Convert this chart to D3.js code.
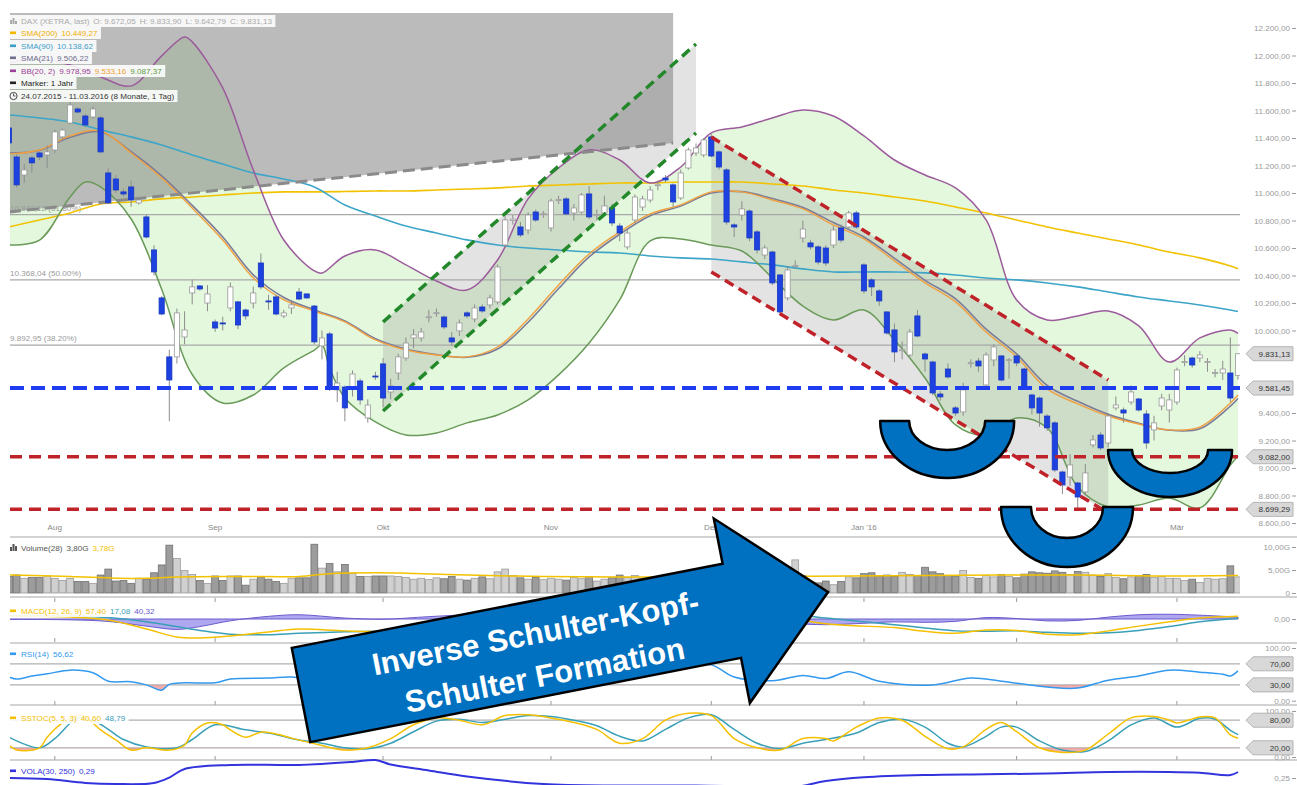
<!DOCTYPE html>
<html><head><meta charset="utf-8">
<script src="https://cdn.jsdelivr.net/npm/d3@7/dist/d3.min.js"></script>
<style>
html,body{margin:0;padding:0;background:#fff;}
svg{display:block;font-family:"Liberation Sans",Arial,sans-serif;}
</style></head><body>
<svg id="chart" width="1297" height="785"></svg>
<script>
// ---------------- DATA ----------------
const openP=[11473,11262,11131,11255,11291,11277,11313,11408,11509,11611,
11560,11553,11546,11146,11102,11008,11044,10928,10826,10586,
10237,9808,9808,9953,10273,10324,10200,10062,10055,10164,
10208,10149,10200,10491,10215,10244,10106,10164,10280,10266,
10178,9888,9975,9568,9589,9589,9633,9364,9669,9757,
9553,9691,9800,9946,9946,10098,10125,10098,9946,9997,
10128,10084,10171,10186,10208,10622,10800,10753,10731,10862,
10845,10746,10945,10957,10855,10862,10993,10838,10855,10891,
10760,10608,10804,10898,10949,11055,11109,11059,10964,11182,
11291,11277,11408,11299,11168,10768,10840,10869,10717,10549,
10571,10404,10237,10465,10673,10637,10608,10600,10622,10746,
10753,10855,10477,10368,10288,10135,10004,9855,9822,10106,
9829,9771,9538,9720,9437,9408,9762,9778,9604,9786,
9815,9784,9815,9720,9531,9509,9378,9328,8971,8935,
8891,8826,9168,9240,9182,9437,9422,9480,9502,9393,
9277,9451,9422,9480,9768,9800,9800,9770,9690,9691,
9691,9672];
const highP=[11500,11280,11210,11270,11300,11345,11460,11470,11680,11625,
11575,11630,11560,11180,11130,11030,11090,10965,10840,10620,
10250,9860,10160,10140,10370,10330,10330,10080,10100,10350,
10215,10160,10320,10560,10260,10260,10150,10220,10310,10270,
10185,10000,9990,9700,9600,9710,9650,9500,9700,9800,
9650,9830,9950,10010,10020,10150,10160,10110,9990,10080,
10140,10190,10190,10260,10480,10830,10840,10790,10860,10880,
10870,10960,10980,10970,10920,11000,11050,10880,10980,10920,
10780,10730,10990,10980,11050,11090,11130,11070,11170,11330,
11360,11400,11430,11310,11180,10780,10940,10880,10730,10620,
10580,10410,10470,10510,10800,10660,10620,10620,10760,10770,
10870,10870,10490,10380,10300,10140,10050,9920,10010,10150,
9840,9780,9560,9760,9450,9620,9790,9800,9840,9900,
9820,9800,9830,9730,9540,9520,9390,9340,8980,9100,
8900,9030,9240,9260,9400,9520,9440,9600,9510,9420,
9380,9540,9540,9730,9820,9810,9850,9800,9720,9780,
9950,9834];
const lowP=[11340,11040,11075,11150,11240,11182,11290,11390,11500,11580,
11480,11540,11290,10920,11000,10975,10900,10915,10670,10400,
10110,9340,9760,9900,10190,10290,10140,9990,10000,10140,
10010,10080,10160,10300,10150,10110,10090,10120,10220,10230,
9900,9790,9560,9480,9340,9520,9460,9330,9640,9440,
9500,9640,9780,9870,9920,10060,10100,10010,9890,9960,
10090,10060,10130,10160,10190,10600,10770,10680,10700,10790,
10820,10720,10920,10840,10800,10850,10810,10800,10840,10760,
10650,10590,10780,10870,10930,11020,11080,10900,10950,11170,
11270,11260,11260,11170,10770,10680,10800,10650,10560,10520,
10330,10120,10220,10450,10640,10590,10480,10470,10600,10640,
10740,10740,10270,10250,10180,9970,9770,9790,9800,9950,
9700,9530,9490,9650,9380,9380,9730,9700,9590,9740,
9630,9650,9740,9570,9390,9300,9270,8970,8810,8870,
8700,8800,9150,9130,9150,9420,9330,9460,9410,9140,
9200,9420,9330,9460,9740,9730,9770,9700,9660,9640,
9480,9643];
const closeP=[11364,11059,11168,11219,11262,11299,11444,11458,11640,11589,
11495,11611,11299,10928,11022,10993,10949,10949,10680,10426,
10120,9640,10128,10004,10317,10302,10266,10018,10048,10317,
10040,10106,10273,10317,10208,10120,10128,10186,10229,10237,
9917,9946,9575,9618,9437,9684,9495,9458,9662,9509,
9597,9808,9909,9968,9989,10100,10130,10026,9917,10055,
10106,10164,10142,10237,10462,10804,10810,10695,10840,10804,
10850,10942,10952,10848,10891,10986,10826,10842,10906,10782,
10709,10709,10971,10957,11022,11060,11095,10935,11146,11313,
11328,11386,11269,11189,10789,10753,10884,10673,10586,10600,
10346,10135,10440,10472,10738,10608,10498,10491,10731,10658,
10855,10753,10288,10317,10215,9982,9844,9860,9989,9960,
9793,9546,9517,9662,9400,9568,9766,9742,9822,9880,
9640,9788,9764,9582,9437,9400,9292,8986,8877,9022,
8789,8964,9204,9146,9378,9458,9400,9553,9422,9182,
9328,9509,9495,9713,9774,9749,9822,9775,9695,9720,
9509,9831];
// volume in billions
const volume=[3.6,3.9,3.2,3.4,3.4,3.7,3.2,2.7,3.2,2.5,
2.5,2.1,3.9,5.2,2.6,2.7,2.1,3.2,3.0,4.4,
6.1,10.4,7.5,4.9,4.0,2.7,2.1,3.7,2.7,3.7,
3.7,1.7,3.0,3.5,3.0,2.5,2.1,3.2,3.3,3.3,
10.6,5.4,6.4,4.6,6.2,4.3,3.6,3.6,3.7,3.7,
3.7,3.6,3.4,3.0,3.2,2.9,3.3,3.1,3.6,3.0,
2.8,3.2,3.5,3.1,4.6,5.2,3.8,3.3,3.0,3.4,
2.9,3.2,3.0,2.8,3.4,3.1,3.6,2.6,3.0,3.3,
3.9,3.4,3.8,3.2,3.0,2.9,2.6,3.4,3.1,3.7,
3.2,3.6,4.1,4.3,5.0,4.2,3.6,4.0,3.8,3.5,
4.4,5.1,3.9,7.2,3.8,2.4,2.2,2.6,1.8,2.5,
3.5,3.3,4.2,4.4,3.7,3.9,3.6,4.5,4.0,3.8,
5.6,4.6,4.2,3.8,3.7,4.9,3.4,3.2,3.8,3.5,
4.0,3.6,3.3,4.1,4.6,4.4,4.3,4.8,4.5,4.0,
4.7,4.5,3.9,3.6,4.2,3.4,3.1,3.5,3.8,4.0,
3.4,3.6,3.2,3.2,2.7,3.0,2.3,3.2,3.0,3.1,
5.9,3.5];
const volumeMA=[[0,3.9],[8,3.6],[14,3.2],[18,3.2],[22,3.5],[30,3.6],[38,3.6],[42,4.2],[48,4.4],[52,4.3],[60,3.9],[70,3.6],[80,3.5],[90,3.5],[100,3.6],[110,3.7],[120,3.8],[130,3.9],[140,3.9],[150,3.7],[161,3.78]];

// overlay lines (candle index, value)
const lineIdx=[0,4,8,12,16,20,24,28,32,36,40,44,48,52,56,60,64,68,72,76,80,84,88,92,96,100,104,108,112,116,120,124,128,132,136,140,144,148,152,156,160,161];
const sma200=[10753,10804,10855,10920,10935,10957,10971,10986,11000,11008,11008,11011,11015,11015,11022,11029,11037,11051,11058,11066,11073,11073,11080,11080,11080,11066,11051,11022,11000,10971,10942,10898,10855,10804,10753,10709,10666,10622,10571,10528,10469,10449];
const sma90=[11568,11546,11517,11459,11408,11349,11277,11211,11146,11102,11044,10913,10833,10760,10709,10659,10622,10600,10586,10571,10564,10542,10528,10520,10499,10477,10448,10426,10426,10426,10419,10404,10382,10368,10346,10317,10280,10244,10215,10186,10149,10138];
const sma21=[11290,11310,11405,11445,11300,11125,10910,10680,10405,10240,10150,10070,9940,9865,9825,9805,9865,10060,10305,10535,10700,10835,10905,11000,11010,10960,10895,10785,10680,10525,10365,10230,10010,9830,9600,9485,9390,9325,9275,9285,9450,9506];
const bbMid=[11284,11313,11415,11451,11291,11109,10891,10658,10382,10222,10142,10062,9931,9858,9822,9808,9880,10084,10331,10557,10717,10848,10913,11008,11008,10949,10884,10768,10666,10506,10346,10208,9989,9808,9575,9466,9378,9320,9277,9298,9473,9531];
const bbUpper=[[0,11946],[4,11982],[8,11931],[12,11844],[16,11779],[20,11997],[23,12135],[24,12099],[28,11764],[32,11168],[36,10658],[40,10433],[41,10418],[44,10542],[48,10586],[52,10477],[56,10360],[60,10295],[64,10513],[68,10957],[72,11182],[76,11313],[80,11240],[84,11073],[88,11189],[92,11437],[96,11480],[100,11546],[104,11604],[108,11560],[112,11415],[116,11240],[120,11131],[124,11037],[128,10804],[132,10222],[136,10077],[140,10106],[144,10142],[148,10033],[152,9771],[156,9946],[160,10004],[161,9979]];
const bbLower=[[0,10622],[4,10658],[8,10971],[10,11080],[12,11044],[16,10811],[20,10300],[24,9680],[28,9473],[32,9531],[36,9728],[40,9858],[41,9895],[42,9728],[44,9509],[48,9335],[52,9240],[56,9255],[60,9328],[64,9386],[68,9495],[72,9677],[76,9909],[80,10222],[84,10651],[88,10666],[92,10622],[96,10578],[100,10382],[104,10178],[108,10077],[112,10149],[116,9931],[120,9655],[124,9313],[128,9240],[132,9364],[136,9291],[140,8862],[144,8717],[148,8731],[152,8782],[156,8709],[160,9022],[161,9088]];

// indicator panels (candle index, value)
const macdLine=[[0,63],[8,42],[13,-21],[18,-210],[22,-380],[25,-400],[29,-358],[34,-274],[38,-210],[44,-250],[49,-260],[55,-170],[60,-60],[66,90],[72,200],[78,240],[84,220],[90,260],[96,180],[102,30],[107,-100],[112,-150],[116,-180],[120,-260],[124,-300],[128,-230],[132,-240],[136,-320],[140,-330],[144,-250],[148,-150],[152,-60],[156,20],[161,57]];
const macdSignal=[[0,70],[8,60],[13,30],[18,-60],[22,-160],[25,-240],[29,-320],[34,-330],[38,-300],[44,-270],[49,-255],[55,-220],[60,-150],[66,-40],[72,80],[78,170],[84,210],[90,230],[96,220],[102,120],[107,20],[112,-60],[116,-120],[120,-190],[124,-250],[128,-260],[132,-250],[136,-280],[140,-300],[144,-290],[148,-240],[152,-160],[156,-60],[161,17]];
const macdHist=[[0,-7],[8,-18],[13,-51],[18,-150],[22,-220],[25,-160],[29,-38],[34,56],[38,90],[44,20],[49,-5],[55,50],[60,90],[66,130],[72,120],[78,70],[84,10],[90,30],[96,-40],[102,-90],[107,-120],[112,-90],[116,-60],[120,-70],[124,-50],[128,30],[132,10],[136,-40],[140,-30],[144,40],[148,90],[152,100],[156,80],[161,40]];
const rsi=[[0,45],[1,41],[3,47],[5,51],[8,58],[11,53],[13,37],[16,36],[18,30],[20,20],[21,31],[23,34],[27,34],[29,41],[34,43],[37,45],[41,35],[44,30],[48,38],[52,50],[56,52],[60,55],[64,62],[68,68],[72,65],[76,60],[80,55],[84,62],[88,66],[92,68],[95,45],[100,38],[104,48],[107,42],[110,55],[114,37],[121,30],[126,43],[130,37],[136,26],[140,24],[144,39],[148,47],[152,58],[156,54],[159,50],[160,47],[161,56.62]];
const stochK=[[0,26],[1,15],[4,20],[5,43],[7,74],[9,91],[10,87],[12,59],[14,37],[16,15],[18,20],[21,15],[23,26],[24,52],[26,74],[28,70],[29,59],[31,43],[33,54],[35,50],[37,41],[41,25],[44,15],[47,20],[50,40],[53,70],[56,85],[59,80],[62,70],[65,90],[68,92],[71,85],[74,75],[77,60],[80,30],[83,40],[86,80],[89,95],[92,90],[95,40],[98,20],[101,15],[104,40],[107,40],[108,35],[111,65],[114,85],[117,80],[120,45],[123,18],[125,22],[128,60],[130,75],[132,55],[135,20],[138,10],[141,15],[144,50],[147,85],[150,88],[152,80],[153,74],[156,87],[158,85],[160,48],[161,40.6]];
const stochD=[[0,43],[4,20],[6,40],[9,85],[11,80],[13,60],[15,38],[18,22],[22,20],[24,38],[27,70],[31,59],[34,52],[38,37],[41,30],[44,20],[47,18],[50,30],[53,55],[56,78],[59,82],[62,75],[65,82],[68,90],[71,88],[74,80],[77,68],[80,45],[83,35],[86,60],[89,85],[92,92],[95,60],[98,30],[101,18],[104,30],[107,38],[111,52],[114,75],[117,82],[120,65],[123,30],[125,22],[128,45],[130,65],[132,65],[135,35],[138,15],[141,12],[144,35],[147,70],[150,85],[153,65],[156,84],[158,82],[160,58],[161,48.79]];
const vola=[[0,0.25],[5,0.243],[10,0.217],[14,0.21],[19,0.217],[21,0.253],[23,0.31],[29,0.337],[38,0.337],[45,0.357],[48,0.37],[50,0.34],[55,0.30],[60,0.26],[70,0.21],[80,0.20],[90,0.20],[100,0.19],[103,0.19],[107,0.23],[112,0.255],[120,0.27],[128,0.275],[136,0.28],[144,0.29],[152,0.29],[156,0.285],[160,0.27],[161,0.29]];

// annotations (candle index, price)
const fibLevels=[10843.12,10368.04,9892.95];
const fibLabels=["10.843,12 (61.80%)","10.368,04 (50.00%)","9.892,95 (38.20%)"];
const supportBlue=9581.45;
const supportRed=[9082.00,8699.29];
const greyZone=[[0,12330],[87,12330],[87,11364],[0,10862]];
const greyLine=[[0,10862],[87,11364]];
const greenUpper=[[49,10062],[90,12084]];
const greenLower=[[49,9415],[90,11436]];
const redUpper=[[92,11407],[144,9640]];
const redLower=[[92,10426],[144,8673]];
const cupAnchors=[[122.9,9342],[138.6,8716],[152.1,9131]];
const priceTags=[["9.831,13",9831.13],["9.581,45",9581.45],["9.082,00",9082.00],["8.699,29",8699.29]];
const monthLabels=["Aug","Sep","Okt","Nov","Dez","Jan '16","Feb","Mär"];
const priceTicks=[8600,8800,9000,9200,9400,10000,10200,10400,10600,10800,11000,11200,11400,11600,11800,12000,12200];

// ---------------- SETUP ----------------
const svg=d3.select("#chart");
const N=closeP.length;
const holidays=new Set(["2015-12-24","2015-12-25","2015-12-31","2016-01-01"]);
const dates=[];
for(let d=new Date(Date.UTC(2015,6,24)); dates.length<N; d.setUTCDate(d.getUTCDate()+1)){
  const wd=d.getUTCDay(), s=d.toISOString().slice(0,10);
  if(wd>0&&wd<6&&!holidays.has(s)) dates.push(s);
}
const PL=10, PR=1240, PT=13, PB=523;
const FS=8.1;
const x=d3.scaleBand().domain(dates).range([5.18,1241.82]);
const xc=i=>x(dates[i])+x.bandwidth()/2;
const xL=d3.scaleLinear().domain([0,N-1]).range([xc(0),xc(N-1)]);
const y=d3.scaleLinear().domain([8600,12200]).range([523,28]);
const loc=d3.formatLocale({decimal:",",thousands:".",grouping:[3],currency:["","€"]});
const f2=loc.format(",.2f");
const curve=d3.curveCatmullRom.alpha(0.5);
const lineP=ys=>d3.line().x(d=>xL(d[0])).y(d=>ys(d[1])).curve(curve);
const lineS=ys=>d3.line().x(d=>xL(d[0])).y(d=>ys(d[1]));
const pair=vals=>d3.zip(lineIdx,vals);

const defs=svg.append("defs");
defs.append("clipPath").attr("id","clipMain").append("rect").attr("x",PL).attr("y",PT).attr("width",PR-PL).attr("height",PB-PT);
defs.append("clipPath").attr("id","clipLow").append("rect").attr("x",PL).attr("y",530).attr("width",PR-PL).attr("height",255);

const main=svg.append("g").attr("clip-path","url(#clipMain)");

// Bollinger fill
const upPath=lineP(y)(bbUpper), loRev=lineP(y)(bbLower.slice().reverse());
main.append("path").attr("d",upPath+"L"+loRev.slice(1)+"Z").attr("fill","#e3f8dc");

// grey zone top left
main.append("path").attr("d",lineS(y)(greyZone)+"Z").attr("fill","rgba(120,120,120,0.5)");
// channel fills
main.append("path").attr("d",lineS(y)([greenUpper[0],greenUpper[1],greenLower[1],greenLower[0]])+"Z").attr("fill","rgba(128,128,128,0.22)");
main.append("path").attr("d",lineS(y)([redUpper[0],redUpper[1],redLower[1],redLower[0]])+"Z").attr("fill","rgba(128,128,128,0.22)");

// fib lines
fibLevels.forEach((v,k)=>{
  main.append("line").attr("x1",PL).attr("x2",PR).attr("y1",y(v)).attr("y2",y(v)).attr("stroke","#a8a8a8").attr("stroke-width",1.2);
  main.append("text").attr("x",PL).attr("y",y(v)-4).text(fibLabels[k]).attr("font-size",FS).attr("fill","#9a9a9a");
});

// overlay lines
const ov=[[pair(sma200),"#f2c200",1.6],[pair(sma90),"#3da5c8",1.6],[pair(sma21),"#7c7c98",1.6],[pair(bbMid),"#f0a040",1.4],[bbUpper,"#9c5b9c",1.5],[bbLower,"#6a9a5a",1.5]];
ov.forEach(([d,c,w])=>main.append("path").attr("d",lineP(y)(d)).attr("fill","none").attr("stroke",c).attr("stroke-width",w));

// grey dashed line
main.append("path").attr("d",lineS(y)(greyLine)).attr("stroke","#8a8a8a").attr("stroke-width",3).attr("stroke-dasharray","12,6").attr("fill","none");

// candles
const cg=main.append("g");
const idx=d3.range(N);
cg.selectAll("line.w").data(idx).join("line").attr("class","w")
  .attr("x1",i=>xc(i)).attr("x2",i=>xc(i)).attr("y1",i=>y(highP[i])).attr("y2",i=>y(lowP[i]))
  .attr("stroke","#8c8c8c").attr("stroke-width",1);
cg.selectAll("rect.b").data(idx).join("rect").attr("class","b")
  .attr("x",i=>xc(i)-2.6).attr("width",5.2)
  .attr("y",i=>y(Math.max(openP[i],closeP[i])))
  .attr("height",i=>Math.max(1,Math.abs(y(openP[i])-y(closeP[i]))))
  .attr("fill",i=>closeP[i]>=openP[i]?"#ffffff":"#1d42e0")
  .attr("stroke",i=>closeP[i]>=openP[i]?"#9a9a9a":"#1a38c0").attr("stroke-width",0.8);

// channel dashed lines
[[greenUpper,"#22882a"],[greenLower,"#22882a"],[redUpper,"#c0222a"],[redLower,"#c0222a"]].forEach(([d,c])=>
  main.append("path").attr("d",lineS(y)(d)).attr("stroke",c).attr("stroke-width",3.5).attr("stroke-dasharray","10,6").attr("fill","none"));

// horizontal support lines
main.append("line").attr("x1",PL).attr("x2",PR).attr("y1",y(supportBlue)).attr("y2",y(supportBlue)).attr("stroke","#1e3cf0").attr("stroke-width",4).attr("stroke-dasharray","14,7");
supportRed.forEach(v=>main.append("line").attr("x1",PL).attr("x2",PR).attr("y1",y(v)).attr("y2",y(v)).attr("stroke","#c0222a").attr("stroke-width",3.5).attr("stroke-dasharray","12,7"));

// right price axis
const axG=svg.append("g").attr("transform","translate(1296,0)")
  .call(d3.axisLeft(y).tickValues(priceTicks).tickSize(4).tickPadding(2).tickFormat(f2));
axG.select(".domain").remove();
axG.selectAll("text").attr("font-size",FS).attr("fill","#9a9a9a").attr("font-family","Liberation Sans, Arial, sans-serif");
axG.selectAll("line").attr("stroke","#9a9a9a");

function tag(yy,label){
  const g=svg.append("g");
  g.append("path").attr("d",`M1246,${yy}L1253,${yy-7}L1293,${yy-7}L1293,${yy+7}L1253,${yy+7}Z`).attr("fill","#d8d8d8").attr("stroke","#b4b4b4");
  g.append("text").attr("x",1290).attr("y",yy+3).attr("text-anchor","end").attr("font-size",FS).attr("fill","#333").text(label);
}
priceTags.forEach(([t,v])=>tag(y(v),t));

// month labels
const monthStarts=[];
for(let i=1;i<N;i++) if(dates[i].slice(0,7)!==dates[i-1].slice(0,7)) monthStarts.push(i);
monthStarts.forEach((i,k)=>svg.append("text").attr("x",xc(i)).attr("y",530).attr("text-anchor","middle").attr("font-size",FS).attr("fill","#888").text(monthLabels[k]));

// panel separators
[537,597,643,705,760].forEach(yy=>svg.append("line").attr("x1",PL).attr("x2",1297).attr("y1",yy).attr("y2",yy).attr("stroke","#d2d2d2").attr("stroke-width",2));
[598,638,701,756].forEach(yy=>monthStarts.forEach(i=>svg.append("line").attr("x1",xc(i)).attr("x2",xc(i)).attr("y1",yy).attr("y2",yy+4).attr("stroke","#999")));

// ---------------- LOWER PANELS ----------------
const low=svg.append("g").attr("clip-path","url(#clipLow)");
// volume
const yV=d3.scaleLinear().domain([0,10]).range([593,547]);
low.selectAll("rect.v").data(idx).join("rect").attr("class","v")
  .attr("x",i=>xc(i)-3.4).attr("width",6.8).attr("y",i=>yV(volume[i])).attr("height",i=>yV(0)-yV(volume[i]))
  .attr("fill",i=>closeP[i]>=openP[i]?"#d0d0d0":"#9c9c9c").attr("stroke",i=>closeP[i]>=openP[i]?"#9a9a9a":"#707070").attr("stroke-width",0.8);
low.append("path").attr("d",lineP(yV)(volumeMA)).attr("fill","none").attr("stroke","#f2c200").attr("stroke-width",1.5);

// MACD
const yM=d3.scaleLinear().domain([-450,300]).range([640.375,604.75]);
low.append("path").attr("d",d3.area().x(d=>xL(d[0])).y0(yM(0)).y1(d=>yM(d[1])).curve(curve)(macdHist)).attr("fill","rgba(110,95,225,0.55)").attr("stroke","#6a5acd").attr("stroke-width",1);
low.append("path").attr("d",lineP(yM)(macdSignal)).attr("fill","none").attr("stroke","#3aa0b8").attr("stroke-width",1.5);
low.append("path").attr("d",lineP(yM)(macdLine)).attr("fill","none").attr("stroke","#f5c000").attr("stroke-width",1.5);

// RSI
const yR=d3.scaleLinear().domain([0,100]).range([700.7,648]);
[70,30].forEach(v=>low.append("line").attr("x1",PL).attr("x2",PR).attr("y1",yR(v)).attr("y2",yR(v)).attr("stroke","#b0b0b0").attr("stroke-width",1.3));
defs.append("clipPath").attr("id","clipR").append("rect").attr("x",PL).attr("y",yR(30)).attr("width",PR-PL).attr("height",yR(0)-yR(30));
low.append("path").attr("clip-path","url(#clipR)").attr("d",d3.area().x(d=>xL(d[0])).y0(yR(30)).y1(d=>yR(d[1])).curve(curve)(rsi)).attr("fill","rgba(235,140,140,0.7)");
low.append("path").attr("d",lineP(yR)(rsi)).attr("fill","none").attr("stroke","#3399ee").attr("stroke-width",1.5);

// SSTOC
const yS=d3.scaleLinear().domain([0,100]).range([757,711]);
[80,20].forEach(v=>low.append("line").attr("x1",PL).attr("x2",PR).attr("y1",yS(v)).attr("y2",yS(v)).attr("stroke","#b0b0b0").attr("stroke-width",1.3));
defs.append("clipPath").attr("id","clipS").append("rect").attr("x",PL).attr("y",yS(20)).attr("width",PR-PL).attr("height",yS(0)-yS(20));
low.append("path").attr("clip-path","url(#clipS)").attr("d",d3.area().x(d=>xL(d[0])).y0(yS(20)).y1(d=>yS(d[1])).curve(curve)(stochK)).attr("fill","rgba(235,140,140,0.7)");
low.append("path").attr("d",lineP(yS)(stochD)).attr("fill","none").attr("stroke","#3aa0b8").attr("stroke-width",1.5);
low.append("path").attr("d",lineP(yS)(stochK)).attr("fill","none").attr("stroke","#f5c000").attr("stroke-width",1.5);

// VOLA
const yVo=d3.scaleLinear().domain([0.25,0.35]).range([778,763]);
low.append("path").attr("d",lineP(yVo)(vola)).attr("fill","none").attr("stroke","#3333dd").attr("stroke-width",2);

// lower axes
function lowAxis(scale,vals,fmt){
  const g=svg.append("g").attr("transform","translate(1296,0)").call(d3.axisLeft(scale).tickValues(vals).tickSize(4).tickPadding(2).tickFormat(fmt));
  g.select(".domain").remove();
  g.selectAll("text").attr("font-size",FS).attr("fill","#9a9a9a").attr("font-family","Liberation Sans, Arial, sans-serif");
  g.selectAll("line").attr("stroke","#9a9a9a");
}
lowAxis(yV,[0,5,10],v=>v===0?"0":f2(v)+"G");
lowAxis(yM,[0],f2);
lowAxis(yR,[0,100],f2);
lowAxis(yS,[0,100],f2);
lowAxis(yVo,[0.25],f2);
[70,30].forEach(v=>tag(yR(v),f2(v)));
[80,20].forEach(v=>tag(yS(v),f2(v)));

// ---------------- LEGENDS ----------------
function legendRow(x0,yb,marker,runs){
  const g=svg.append("g");
  const bg=g.append("rect");
  if(marker==="icon"){
    [[0,4],[2.5,6],[5,3]].forEach(([dx,h])=>g.append("rect").attr("x",x0+dx).attr("y",yb-h).attr("width",2).attr("height",h).attr("fill","#aaa"));
  } else if(marker==="vol"){
    [[0,4],[2.5,7],[5,5]].forEach(([dx,h])=>g.append("rect").attr("x",x0+dx).attr("y",yb-h).attr("width",2).attr("height",h).attr("fill","#555"));
  } else if(marker==="clock"){
    g.append("circle").attr("cx",x0+3.5).attr("cy",yb-3).attr("r",3.6).attr("fill","none").attr("stroke","#333").attr("stroke-width",0.9);
    g.append("path").attr("d",`M${x0+3.5},${yb-5.5}V${yb-3}H${x0+5.5}`).attr("stroke","#333").attr("fill","none").attr("stroke-width",0.8);
  } else {
    g.append("rect").attr("x",x0).attr("y",yb-4.5).attr("width",6).attr("height",2.6).attr("fill",marker);
  }
  const t=g.append("text").attr("x",x0+11).attr("y",yb).attr("font-size",FS);
  runs.forEach(([s,c],k)=>t.append("tspan").attr("dx",k?4:0).attr("fill",c).text(s));
  const bb=g.node().getBBox();
  bg.attr("x",bb.x-1).attr("y",yb-9).attr("width",bb.width+4).attr("height",12).attr("fill","rgba(255,255,255,0.88)");
}
legendRow(10,24,"icon",[["DAX (XETRA, last)","#aaa"],["O: 9.672,05","#aaa"],["H: 9.833,90","#aaa"],["L: 9.642,79","#aaa"],["C: 9.831,13","#aaa"]]);
legendRow(10,36,"#f5b800",[["SMA(200)","#f0b000"],["10.449,27","#f0b000"]]);
legendRow(10,49,"#3aa0c8",[["SMA(90)","#3aa0c8"],["10.138,62","#3aa0c8"]]);
legendRow(10,61,"#6e6e8e",[["SMA(21)","#6e6e8e"],["9.506,22","#6e6e8e"]]);
legendRow(10,74,"#9c3f98",[["BB(20, 2)","#9c3f98"],["9.978,95","#9c3f98"],["9.533,16","#f0a030"],["9.087,37","#5a9a3a"]]);
legendRow(10,86,"#222",[["Marker: 1 Jahr","#222"]]);
legendRow(10,99,"clock",[["24.07.2015 - 11.03.2016 (8 Monate, 1 Tag)","#333"]]);

legendRow(10,551,"vol",[["Volume(28)","#555"],["3,80G","#555"],["3,78G","#f5c000"]]);
legendRow(10,614,"#f5c000",[["MACD(12, 26, 9)","#f5c000"],["57,40","#f5c000"],["17,08","#3aa0b8"],["40,32","#6a5acd"]]);
legendRow(10,657,"#3399ee",[["RSI(14)","#3399ee"],["56,62","#3399ee"]]);
legendRow(10,721,"#f5c000",[["SSTOC(5, 5, 3)","#f5c000"],["40,60","#f5c000"],["48,79","#3aa0b8"]]);
legendRow(10,774,"#3333dd",[["VOLA(30, 250)","#3333dd"],["0,29","#3333dd"]]);

// ---------------- SHAPES ----------------
const cupSizes=[[67,57,38,29],[66,60,36,31],[62,47,38,23]];
cupAnchors.forEach(([i,p],k)=>{
  const cx=xL(i), top=y(p), [rx,ry,rxi,ryi]=cupSizes[k];
  const d=`M${cx-rx},${top}A${rx},${ry} 0 0 0 ${cx+rx},${top}L${cx+rxi},${top}A${rxi},${ryi} 0 0 1 ${cx-rxi},${top}Z`;
  svg.append("path").attr("d",d).attr("fill","#0070c0").attr("stroke","#000").attr("stroke-width",2.5).attr("stroke-linejoin","round");
});

const arrow=svg.append("g").attr("transform","translate(301,695) rotate(-11.06)");
arrow.append("path").attr("d","M0,-48L439,-48L439,-94L537,0L439,94L439,48L0,48Z").attr("fill","#0070c0").attr("stroke","#000").attr("stroke-width",2.5).attr("stroke-linejoin","miter");
arrow.append("text").attr("x",242).attr("y",-5).attr("text-anchor","middle").attr("font-size",31).attr("font-weight","bold").attr("fill","#fff").text("Inverse Schulter-Kopf-");
arrow.append("text").attr("x",243).attr("y",38).attr("text-anchor","middle").attr("font-size",31).attr("font-weight","bold").attr("fill","#fff").text("Schulter Formation");
</script></body></html>
